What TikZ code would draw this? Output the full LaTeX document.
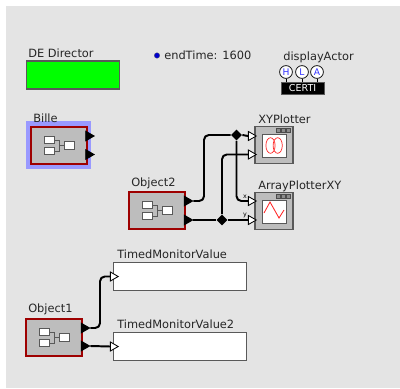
\documentclass[tikz,border=0pt]{standalone}
\usepackage{fontspec}
\setmainfont{DejaVu Sans}
\usetikzlibrary{positioning, arrows.meta, shapes.geometric}

\definecolor{canvas}{gray}{0.895}
\definecolor{actorgray}{gray}{0.74}
\definecolor{edgegray}{gray}{0.35}
\definecolor{compred}{rgb}{0.62,0,0}
\definecolor{hlblue}{rgb}{0.6,0.6,1}

\begin{document}
\begin{tikzpicture}[
    x=0.025cm, y=-0.025cm,
    lbl/.style={font=\fontsize{8.1}{9}\selectfont, anchor=base west, inner sep=0pt, text=black!85},
    actor/.style={draw=edgegray, line width=0.9pt, fill=actorgray, inner sep=0pt, minimum width=1.4cm, minimum height=0.93cm},
    comp/.style={actor, draw=compred, line width=1.5pt},
    plotter/.style={actor, minimum width=0.95cm, minimum height=0.94cm},
    display/.style={draw=edgegray, line width=0.8pt, fill=white, inner sep=0pt, minimum width=3.33cm, minimum height=0.71cm},
    inport/.style={regular polygon, regular polygon sides=3, shape border rotate=-90, draw=black, line width=0.6pt, fill=white, inner sep=0pt, minimum size=0.26cm},
    outport/.style={inport, fill=black, minimum size=0.28cm},
    junction/.style={diamond, fill=black, inner sep=0pt, minimum size=0.28cm},
    wire/.style={line width=1.4pt, rounded corners=0.12cm},
    portname/.style={font=\fontsize{4.5}{5}\selectfont, inner sep=0pt},
    hla/.style={circle, draw=black, line width=0.5pt, fill=white, text=blue!80, inner sep=0pt, minimum size=0.32cm, font=\fontsize{6.5}{7}\selectfont},
    tiny box/.style={draw=edgegray, line width=0.7pt, fill=white, inner sep=0pt, minimum width=0.25cm, minimum height=0.19cm},
    compicon/.pic={
        \node[tiny box] (-a) at (-9.5,-5.5) {};
        \node[tiny box] (-b) at (-9.5,5.5) {};
        \node[tiny box] (-c) at (10,0) {};
        \draw[edgegray, line width=0.7pt] (-a) -| (0,0) (-b) -| (0,0) (0,0) -- (-c);
    },
]

\path[use as bounding box, fill=white] (0,0) rectangle (400,388);
\fill[canvas] (6,6) rectangle (400,388);

% Director and parameters
\node[draw=edgegray, line width=0.8pt, fill=green, inner sep=0pt, minimum width=2.34cm, minimum height=0.7cm] (director) at (73,75) {};
\node[lbl] (director_l) at (28,57) {DE Director};
\node[circle, fill=blue!80!black, draw=black!60, line width=0.2pt, inner sep=0pt, minimum size=0.14cm] (endtime_d) at (157,55.5) {};
\node[lbl] (endtime_l) at (164,59) {endTime: 1600};

% HLA attribute
\node[lbl] (display_l) at (283,60) {displayActor};
\node[fill=black, draw=edgegray, line width=0.3pt, minimum width=1.08cm, minimum height=0.3cm, inner sep=0pt, text=white, font=\fontsize{6.8}{7}\selectfont] (certi) at (302.5,88) {CERTI};
\foreach \i/\letter/\xpos in {h/H/286, l/L/302, a/A/317} {
    \node[hla] (hla_\i) at (\xpos,72) {\letter};
    \draw[line width=0.5pt] (hla_\i) -- (hla_\i |- certi.north);
}

% Composite actors
\node[fill=hlblue, minimum width=1.64cm, minimum height=1.18cm, inner sep=0pt] (bille_h) at (58.5,145) {};
\node[comp] (bille) at (59,145.5) {};
\node[lbl] (bille_l) at (33,122) {Bille};
\node[comp] (object2) at (157,210.5) {};
\node[lbl] (object2_l) at (131,186) {Object2};
\node[comp] (object1) at (54,337.5) {};
\node[lbl] (object1_l) at (28,312.5) {Object1};
\foreach \actor/\xpos/\ypos in {bille/59/145.5, object2/157/210.5, object1/54/337.5} {
    \pic (\actor_i) at (\xpos,\ypos) {compicon};
}

% Plotters
\node[plotter] (xyplot) at (274,145) {};
\node[lbl] (xyplot_l) at (258,123) {XYPlotter};
\node[plotter] (arrayplot) at (274,211) {};
\node[lbl] (arrayplot_l) at (258,189) {ArrayPlotterXY};
\foreach \actor in {xyplot, arrayplot} {
    \node[draw=edgegray, line width=0.7pt, fill=white, inner sep=0pt, minimum width=0.6cm, minimum height=0.58cm] (\actor_s) at ([yshift=-0.02cm]\actor) {};
    \foreach \i in {0,1,2} {
        \node[draw=black!70, fill=black!45, line width=0.3pt, inner sep=0pt, minimum size=0.1cm] (\actor_b\i) at ([xshift={(\i*0.125+0.1)*1cm}, yshift=0.36cm]\actor) {};
    }
}
\draw[red!85, line width=0.5pt] (270.5,145.5) ellipse (4.6 and 7.8) (277.7,145.5) ellipse (4.6 and 7.8);
\draw[red!85, line width=0.6pt] (264,213) -- (270,202) -- (279,218) -- (284,210);

% Monitors
\node[display] (monitor1) at (180,276.5) {};
\node[lbl] (monitor1_l) at (117,258.5) {TimedMonitorValue};
\node[display] (monitor2) at (180,346.5) {};
\node[lbl] (monitor2_l) at (117,328.5) {TimedMonitorValue2};

% Ports
\foreach \name/\xpos/\ypos in {bille_o1/88.5/136, bille_o2/88.5/154.5, object2_o1/187/201, object2_o2/187/220, object1_o1/84/328, object1_o2/84/346} {
    \node[outport] (\name) at (\xpos,\ypos) {};
}
\foreach \name/\xpos/\ypos in {xy_x/251/136, xy_y/251/154.5, array_x/251/201, array_y/251/220, mon1_in/113/276.5, mon2_in/113/346.5} {
    \node[inport] (\name) at (\xpos,\ypos) {};
}
\node[portname] (array_xl) at (245,197) {x};
\node[portname] (array_yl) at (245,215.5) {y};

% Relations
\node[junction] (rel1) at (236.5,135) {};
\node[junction] (rel2) at (222,220) {};

% Connections
\draw[wire] (object2_o1.east) -- (204,201) -- (204,135) -- (rel1.west);
\draw[wire] (rel1.east) -- (xy_x.west);
\draw[wire] (rel1.south) -- (236.5,201) -- (array_x.west);
\draw[wire] (object2_o2.east) -- (rel2.west);
\draw[wire] (rel2.east) -- (array_y.west);
\draw[wire] (rel2.north) -- (222,154.5) -- (xy_y.west);
\draw[wire] (object1_o1.east) -- (100,328) -- (100,276.5) -- (mon1_in.west);
\draw[wire] (object1_o2.east) -- (mon2_in.west);

\end{tikzpicture}
\end{document}
